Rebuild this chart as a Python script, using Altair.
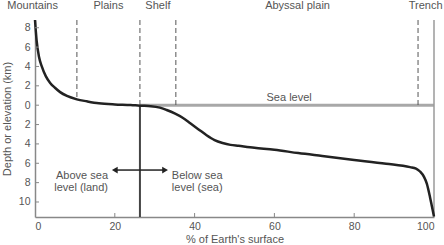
import altair as alt
import pandas as pd

# Hypsometric curve (percent of Earth's surface vs elevation km; negative = depth)
curve_pct = [0, 0.4, 1.0, 1.7, 2.7, 3.8, 5, 6.3, 8, 10.5, 13, 16, 20, 24, 26.3, 29, 31.3, 33,
             35, 37, 39, 41, 43, 45, 47, 49, 51, 55, 60, 66, 72, 80, 88, 94, 95.5, 96.5,
             97.5, 98.2, 99, 99.5, 100]
curve_elev = [8.8, 6.7, 5.0, 4.0, 3.0, 2.3, 1.8, 1.35, 0.95, 0.6, 0.4, 0.2, 0.08, 0.02, -0.05,
              -0.1, -0.25, -0.5, -0.85, -1.3, -1.9, -2.5, -3.1, -3.6, -3.9, -4.1, -4.2, -4.4,
              -4.6, -4.95, -5.25, -5.65, -6.05, -6.4, -6.55, -6.85, -7.4, -8.1, -9.5, -10.5, -11.5]

region_names = ["Mountains", "Plains", "Shelf", "Abyssal plain", "Trench"]
region_pct = [-0.6, 18.4, 30.8, 65.8, 97.9]

dashed_pct = [10.5, 26.3, 35.3, 96]
dashed_top = [8.8, 8.8, 8.8, 8.8]
dashed_bottom = [0.6, 0, 0, 0]

shoreline_pct = 26.3
y_min, y_max = -11.55, 8.8
y_ticks = [8, 6, 4, 2, 0, -2, -4, -6, -8, -10]
x_ticks = [0, 20, 40, 60, 80, 100]
x_inner_ticks = [20, 40, 60, 80]

W, H = 399, 197
FONT = "Liberation Sans"
TXT = "#555555"
FS = 11

xs = alt.Scale(domain=[0, 100], nice=False, zero=False)
ys = alt.Scale(domain=[y_min, y_max], nice=False, zero=False)

AX = alt.Axis(values=x_ticks, ticks=False, grid=False, domainColor="#888888",
              domainWidth=1.5, labelColor=TXT, labelFontSize=10.5, labelFont=FONT,
              labelPadding=4, title="% of Earth's surface", titleFont=FONT,
              titleFontSize=FS, titleFontWeight="normal", titleColor=TXT,
              titlePadding=2)
AY = alt.Axis(values=y_ticks, ticks=False, grid=False, domainColor="#888888",
              domainWidth=1.5, labelColor=TXT, labelFontSize=10.5, labelFont=FONT,
              labelPadding=5, labelExpr="abs(datum.value)",
              title="Depth or elevation (km)", titleFont=FONT, titleFontSize=FS,
              titleFontWeight="normal", titleColor=TXT, titlePadding=6)


def X(f):
    return alt.X(f, scale=xs, axis=AX, title="% of Earth's surface")


def Y(f):
    return alt.Y(f, scale=ys, axis=AY, title="Depth or elevation (km)")


curve_df = pd.DataFrame({"pct": curve_pct, "elev": curve_elev})

# Sea level line
sea = alt.Chart(pd.DataFrame({"x": [shoreline_pct], "x2": [100], "y": [0]})).mark_rule(
    color="#a8a8a8", strokeWidth=3).encode(x=X("x:Q"), x2="x2:Q", y=Y("y:Q"))

# Right border line at 100%
right = alt.Chart(pd.DataFrame({"x": [100], "y": [y_max], "y2": [y_min]})).mark_rule(
    color="#9a9a9a", strokeWidth=1.5).encode(x=X("x:Q"), y=Y("y:Q"), y2="y2:Q")

# Dashed region separators
dashed = alt.Chart(pd.DataFrame({"x": dashed_pct, "y": dashed_top, "y2": dashed_bottom})).mark_rule(
    color="#555555", strokeWidth=1, strokeDash=[5, 3]).encode(x=X("x:Q"), y=Y("y:Q"), y2="y2:Q")

# Shoreline solid line
shore = alt.Chart(pd.DataFrame({"x": [shoreline_pct], "y": [0], "y2": [y_min]})).mark_rule(
    color="#444444", strokeWidth=2).encode(x=X("x:Q"), y=Y("y:Q"), y2="y2:Q")

# Curve
line = alt.Chart(curve_df).mark_line(color="#222222", strokeWidth=2.5, interpolate="monotone").encode(
    x=X("pct:Q"), y=Y("elev:Q"))

# Inward ticks
yt = alt.Chart(pd.DataFrame({"y": y_ticks})).mark_rule(color="#888888", strokeWidth=1).encode(
    y=Y("y:Q"), x=alt.value(0), x2=alt.value(4))
xt = alt.Chart(pd.DataFrame({"x": x_inner_ticks})).mark_rule(color="#888888", strokeWidth=1).encode(
    x=X("x:Q"), y=alt.value(H), y2=alt.value(H - 4))

# Region header labels
regions = alt.Chart(pd.DataFrame({"x": region_pct, "t": region_names})).mark_text(
    font=FONT, fontSize=FS, color=TXT, baseline="middle", align="center").encode(
    x=X("x:Q"), y=alt.value(-14), text="t:N")

# Sea level label
sea_lbl = alt.Chart(pd.DataFrame({"x": [63.7], "y": [0.25], "t": ["Sea level"]})).mark_text(
    font=FONT, fontSize=FS, color=TXT, baseline="bottom", align="center").encode(
    x=X("x:Q"), y=Y("y:Q"), text="t:N")

# Arrows
arrow_df = pd.DataFrame({"x": [shoreline_pct, shoreline_pct], "x2": [20.3, 32.3], "y": [-6.7, -6.7]})
arrows = alt.Chart(arrow_df).mark_rule(color="#222222", strokeWidth=1.5).encode(
    x=X("x:Q"), x2="x2:Q", y=Y("y:Q"))
head_l = alt.Chart(pd.DataFrame({"x": [20.0], "y": [-6.7]})).mark_point(
    shape="triangle-left", filled=True, color="#222222", size=45, opacity=1).encode(
    x=X("x:Q"), y=Y("y:Q"))
head_r = alt.Chart(pd.DataFrame({"x": [32.6], "y": [-6.7]})).mark_point(
    shape="triangle-right", filled=True, color="#222222", size=45, opacity=1).encode(
    x=X("x:Q"), y=Y("y:Q"))

land_lbl = alt.Chart(pd.DataFrame({"x": [18.3], "y": [-6.7], "t": ["Above sea\nlevel (land)"]})).mark_text(
    font=FONT, fontSize=FS, color=TXT, baseline="middle", align="right", lineBreak="\n",
    lineHeight=12, dy=6).encode(x=X("x:Q"), y=Y("y:Q"), text="t:N")
sea_lbl2 = alt.Chart(pd.DataFrame({"x": [34.3], "y": [-6.7], "t": ["Below sea\nlevel (sea)"]})).mark_text(
    font=FONT, fontSize=FS, color=TXT, baseline="middle", align="left", lineBreak="\n",
    lineHeight=12, dy=6).encode(x=X("x:Q"), y=Y("y:Q"), text="t:N")

chart = alt.layer(sea, right, dashed, shore, line, yt, xt, regions, sea_lbl, arrows,
                  head_l, head_r, land_lbl, sea_lbl2).properties(
    width=W, height=H,
    autosize=alt.AutoSizeParams(type="none"),
    padding={"left": 35, "top": 20, "right": 10, "bottom": 28},
    background="white",
).configure_view(stroke=None)

chart.save("out.html", embed_options={"renderer": "svg", "actions": False})
